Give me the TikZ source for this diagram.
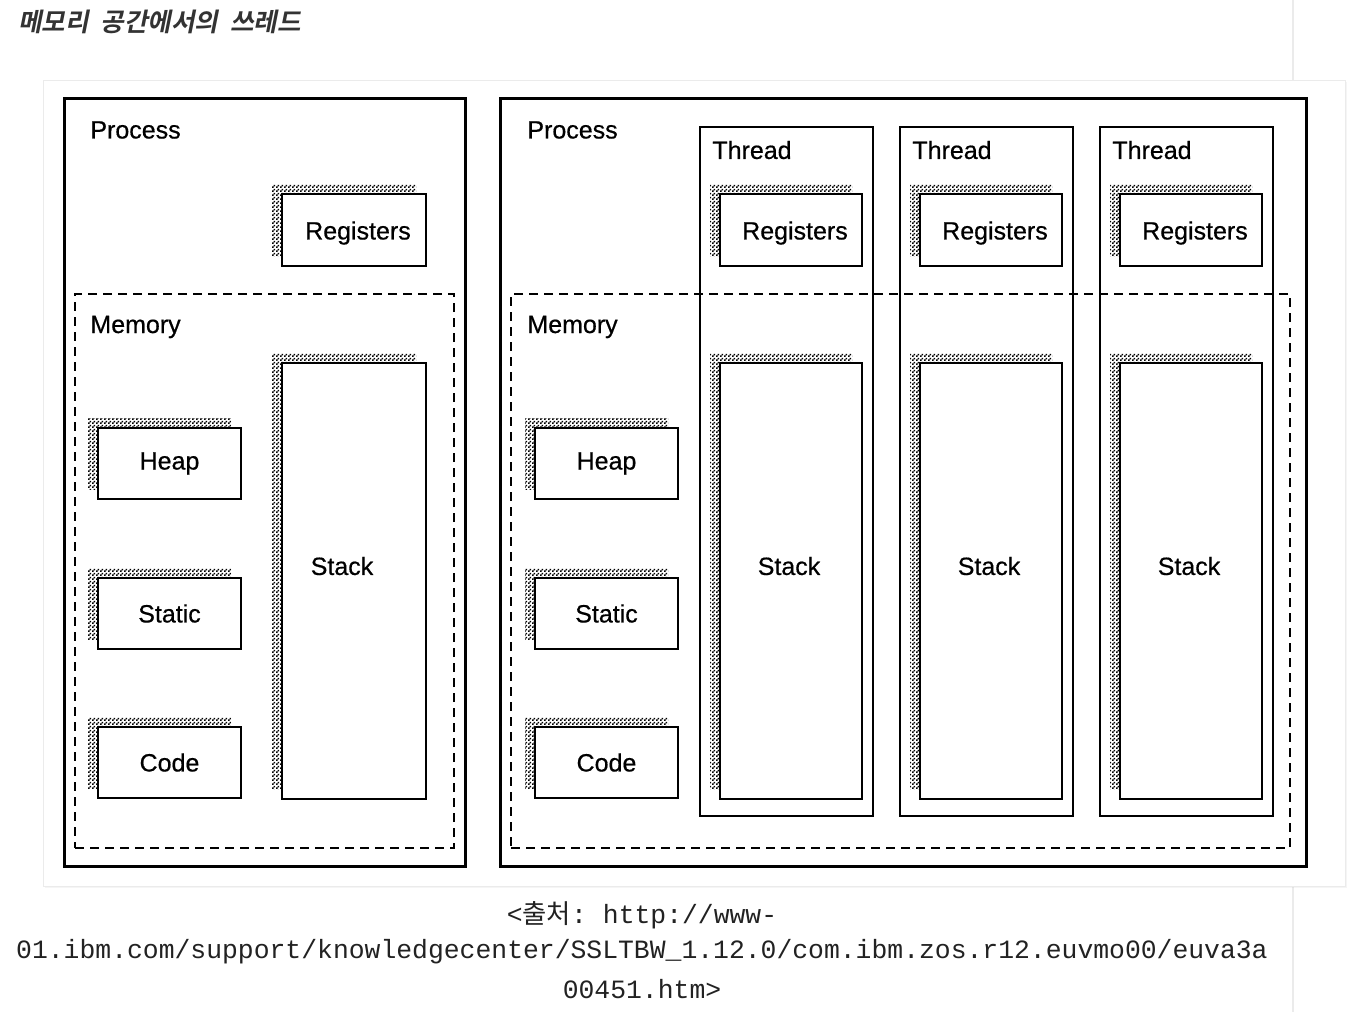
\documentclass[tikz,border=0pt]{standalone}
\usepackage{fontspec}
\setmainfont{Liberation Sans}[BoldFont={Liberation Sans},BoldFeatures={FakeBold=0.5}]
\setmonofont{Liberation Mono}
\newfontfamily\krfont{Noto Sans CJK KR}
\newfontfamily\krtitle[FakeSlant=0.2]{Noto Sans CJK KR Bold}
\usetikzlibrary{fit,patterns,shadows}
\definecolor{panelline}{HTML}{EBEBEB}
\definecolor{titlegray}{HTML}{333333}
\definecolor{capgray}{HTML}{222222}
\pgfdeclarepatternformonly{finechecker}{\pgfpointorigin}{\pgfpoint{2pt}{2pt}}{\pgfpoint{2pt}{2pt}}
{\pgfpathrectangle{\pgfpointorigin}{\pgfpoint{1pt}{1pt}}
 \pgfpathrectangle{\pgfpoint{1pt}{1pt}}{\pgfpoint{1pt}{1pt}}
 \pgfusepath{fill}}

\begin{document}
\begin{tikzpicture}[x=0.5pt,y=-0.5pt,font=\bfseries\fontsize{12.5}{15}\selectfont]

\tikzset{
panel/.style={
    draw=panelline,
    fill=white,
    inner sep=0pt,
    drop shadow={shadow xshift=1pt,shadow yshift=-1pt,opacity=0.08}
},
proc/.style={
    draw=black,
    line width=1.5pt,
    inner sep=0pt
},
thr/.style={
    draw=black,
    line width=1pt,
    inner sep=0pt
},
mem/.style={
    draw=black,
    line width=1pt,
    dash pattern=on 4.5pt off 3pt,
    inner sep=0pt
},
b/.style={
    draw=black,
    line width=1.2pt,
    fill=white,
    inner sep=0pt,
    general shadow={shadow xshift=-5pt,shadow yshift=5pt,
        pattern=finechecker,pattern color=black}
},
reg/.style={b,label={[xshift=2pt,yshift=-1.5pt]center:Registers}},
stk/.style={b,label={[xshift=#1,yshift=7.5pt]center:Stack}},
lbl/.style={anchor=west,inner sep=0pt},
srctext/.style={font=\mdseries\ttfamily\fontsize{13.2}{15}\selectfont,text=capgray,inner sep=0pt}
}

\useasboundingbox (0,0) rectangle (1364,1012);
\fill[white] (0,0) rectangle (1364,1012);
\draw[panelline,line width=1pt] (1293,0) -- (1293,80) (1293,886) -- (1293,1012);

\node[panel,fit={(43,80) (1345,886)}] (page) {};

\node[lbl,text=titlegray,font=\krtitle\fontsize{12.8}{15}\selectfont] (title) at (18,22)
{메모리 \ 공간에서의 \ 쓰레드};

% single-threaded process
\node[proc,fit={(64,98) (465,866)}] (procL) {};
\node[lbl] (procLtxt) at (90,130) {Process};
\node[reg,fit={(282,194) (426,266)}] (regL) {};
\node[mem,fit={(75,294) (454,848)}] (memL) {};
\node[lbl] (memLtxt) at (90,327) {Memory};
\node[b,fit={(98,428) (241,499)},label=center:Heap] (heapL) {};
\node[b,fit={(98,578) (241,649)},label=center:Static] (staticL) {};
\node[b,fit={(98,727) (241,798)},label=center:Code] (codeL) {};
\node[stk=-6pt,fit={(282,363) (426,799)}] (stackL) {};

% multi-threaded process
\node[proc,fit={(500,98) (1306,866)}] (procR) {};
\node[lbl] (procRtxt) at (527,130) {Process};
\node[mem,fit={(511,294) (1290,848)}] (memR) {};
\node[lbl] (memRtxt) at (527,327) {Memory};
\node[b,fit={(535,428) (678,499)},label=center:Heap] (heapR) {};
\node[b,fit={(535,578) (678,649)},label=center:Static] (staticR) {};
\node[b,fit={(535,727) (678,798)},label=center:Code] (codeR) {};

\node[thr,fit={(700,127) (873,816)}] (thrA) {};
\node[lbl] (thrAtxt) at (712,150) {Thread};
\node[reg,fit={(720,194) (862,266)}] (regA) {};
\node[stk=-1pt,fit={(720,363) (862,799)}] (stackA) {};

\node[thr,fit={(900,127) (1073,816)}] (thrB) {};
\node[lbl] (thrBtxt) at (912,150) {Thread};
\node[reg,fit={(920,194) (1062,266)}] (regB) {};
\node[stk=-1pt,fit={(920,363) (1062,799)}] (stackB) {};

\node[thr,fit={(1100,127) (1273,816)}] (thrC) {};
\node[lbl] (thrCtxt) at (1112,150) {Thread};
\node[reg,fit={(1120,194) (1262,266)}] (regC) {};
\node[stk=-1pt,fit={(1120,363) (1262,799)}] (stackC) {};

% source
\node[srctext] (src1) at (642,915) {<{\krfont 출처}: http://www-};
\node[srctext] (src2) at (642,952) {01.ibm.com/support/knowledgecenter/SSLTBW\_1.12.0/com.ibm.zos.r12.euvmo00/euva3a};
\node[srctext] (src3) at (642,989) {00451.htm>};

\end{tikzpicture}
\end{document}
